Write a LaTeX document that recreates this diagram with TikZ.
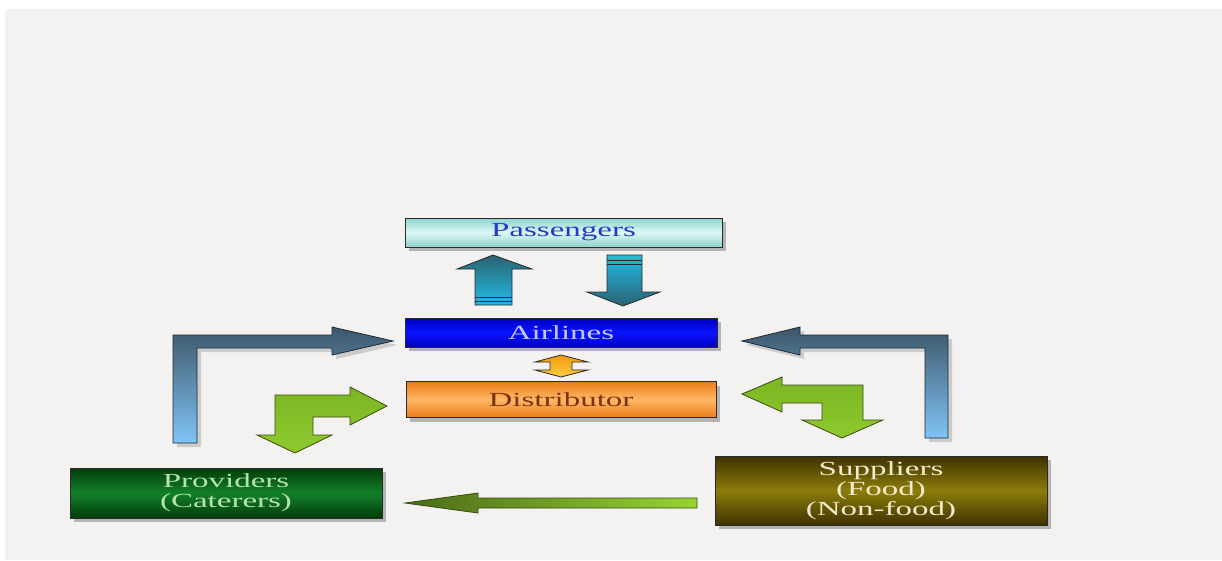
\documentclass[tikz,border=0pt]{standalone}
\usepackage{fontspec}
\setmainfont{Liberation Serif}
\newfontfamily\wideserif[FakeStretch=1.65]{Liberation Serif}
\usetikzlibrary{shadows}
\definecolor{bgc}{HTML}{F4F2F1}
\definecolor{edge}{HTML}{2A2A2A}
\definecolor{paEdge}{HTML}{8ED2CE}
\definecolor{paMid}{HTML}{DDF8F5}
\definecolor{paText}{HTML}{2838C8}
\definecolor{aiEdge}{HTML}{0000C0}
\definecolor{aiMid}{HTML}{0A14FF}
\definecolor{aiText}{HTML}{C4C8FF}
\definecolor{diEdge}{HTML}{EC7C14}
\definecolor{diMid}{HTML}{FFB868}
\definecolor{diText}{HTML}{7A3412}
\definecolor{prEdge}{HTML}{003C0A}
\definecolor{prMid}{HTML}{13802A}
\definecolor{prText}{HTML}{B4E2AC}
\definecolor{suEdge}{HTML}{3E3200}
\definecolor{suMid}{HTML}{8C7C0A}
\definecolor{suText}{HTML}{F2EACC}
\definecolor{tealDark}{HTML}{2A6272}
\definecolor{tealLight}{HTML}{22BCE6}
\definecolor{slateTop}{HTML}{3D5669}
\definecolor{slateBot}{HTML}{80C4F6}
\definecolor{slateEdge}{HTML}{1E2A34}
\definecolor{grTop}{HTML}{7AB624}
\definecolor{grBot}{HTML}{90C92E}
\definecolor{grEdge}{HTML}{3A4A10}
\definecolor{grDark}{HTML}{4A6A18}
\definecolor{grLight}{HTML}{98D432}
\definecolor{orTop}{HTML}{F09A10}
\definecolor{orBot}{HTML}{FFCC40}
\tikzset{
  x=1pt, y=-1pt,
  box/.style={draw=edge, line width=0.8pt, minimum height=#1, inner sep=0pt,
    font=\wideserif\fontsize{20}{20}\selectfont, align=center,
    drop shadow={shadow xshift=4pt, shadow yshift=-4pt, fill=black!45, opacity=0.6}},
  blockarrow/.style={draw=#1, line width=0.8pt, line join=miter},
  arrshadow/.style={fill=black!35, opacity=0.5}
}
\begin{document}
\begin{tikzpicture}
\useasboundingbox (0,0) rectangle (1222,560);
\fill[white] (0,0) rectangle (1222,560);
\fill[bgc] (5,9) rectangle (1222,560);

% boxes
\node[box=29pt, minimum width=317pt, top color=paEdge, bottom color=paEdge, middle color=paMid, text=paText] (pass) at (563.5,232.5) {Passengers};
\node[box=29pt, minimum width=312pt, top color=aiEdge, bottom color=aiEdge, middle color=aiMid, text=aiText] (air) at (561,332.5) {Airlines};
\node[box=36pt, minimum width=310pt, top color=diEdge, bottom color=diEdge, middle color=diMid, text=diText] (dist) at (561,399.5) {Distributor};
\node[box=50pt, minimum width=312pt, top color=prEdge, bottom color=prEdge, middle color=prMid, text=prText] (prov) at (226,493) {Providers\\(Caterers)};
\node[box=69pt, minimum width=332pt, top color=suEdge, bottom color=suEdge, middle color=suMid, text=suText] (supp) at (881,490.5) {Suppliers\\(Food)\\(Non-food)};

% teal up arrow Airlines -> Passengers
\path[blockarrow=edge, top color=tealDark, bottom color=tealLight]
  (475,305) -- (475,269) -- (457,269) -- (493,255) -- (532,269) -- (512,269) -- (512,305) -- cycle;
\draw[edge, line width=1pt] (475,297) -- (512,297) (475,301) -- (512,301);
% teal down arrow Passengers -> Airlines
\path[blockarrow=edge, top color=tealLight, bottom color=tealDark]
  (607,255) -- (607,292) -- (587,292) -- (623,306) -- (660,292) -- (642,292) -- (642,255) -- cycle;
\draw[edge, line width=1pt] (607,260) -- (642,260) (607,264) -- (642,264);

% orange double arrow Airlines <-> Distributor
\path[blockarrow=edge, top color=orTop, bottom color=orBot]
  (550,362) -- (535,362) -- (561,355) -- (588,362) -- (572,362) -- (572,370) -- (588,370) -- (561,377) -- (535,370) -- (550,370) -- cycle;

% slate L arrows to Airlines
\fill[arrshadow] (177,447) -- (177,339) -- (336,339) -- (336,331) -- (397,345) -- (336,359) -- (336,352) -- (201,352) -- (201,447) -- cycle;
\path[blockarrow=slateEdge, top color=slateTop, bottom color=slateBot]
  (173,443) -- (173,335) -- (332,335) -- (332,327) -- (393,341) -- (332,355) -- (332,348) -- (197,348) -- (197,443) -- cycle;
\fill[arrshadow] (952,442) -- (952,339) -- (804,339) -- (804,331) -- (746,345) -- (804,359) -- (804,352) -- (929,352) -- (929,442) -- cycle;
\path[blockarrow=slateEdge, top color=slateTop, bottom color=slateBot]
  (948,438) -- (948,335) -- (800,335) -- (800,327) -- (742,341) -- (800,355) -- (800,348) -- (925,348) -- (925,438) -- cycle;

% green bent arrows at Distributor
\path[blockarrow=grEdge, top color=grTop, bottom color=grBot]
  (275,435) -- (275,395) -- (350,395) -- (350,387) -- (387,406) -- (350,425) -- (350,417) -- (313,417) -- (313,435) -- (332,435) -- (295,453) -- (257,435) -- cycle;
\path[blockarrow=grEdge, top color=grTop, bottom color=grBot]
  (863,420) -- (863,385) -- (782,385) -- (782,377) -- (742,394) -- (782,412) -- (782,403) -- (822,403) -- (822,420) -- (802,420) -- (842,438) -- (883,420) -- cycle;

% bottom arrow Suppliers -> Providers
\path[blockarrow=grEdge, left color=grDark, right color=grLight]
  (697,498) -- (478,498) -- (478,493) -- (405,503) -- (478,513) -- (478,508) -- (697,508) -- cycle;
\end{tikzpicture}
\end{document}
